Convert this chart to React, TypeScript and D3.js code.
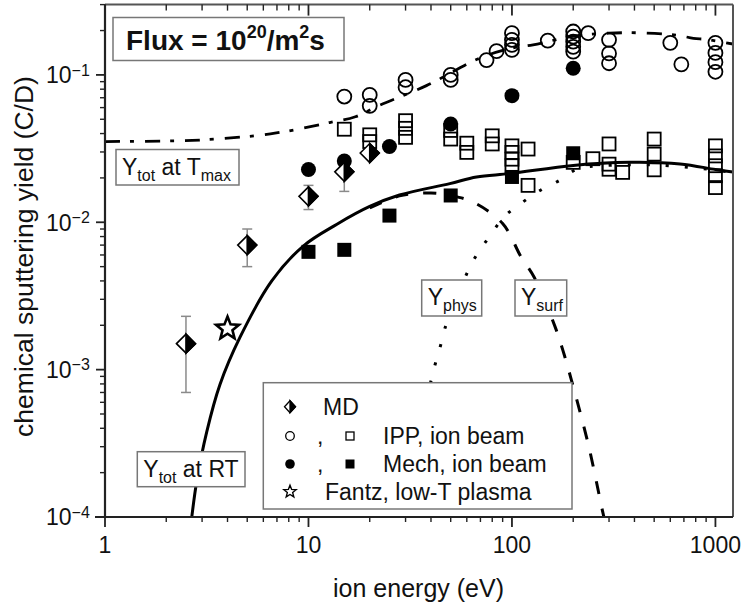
import React from 'react';
import * as d3 from 'd3';

// ---------- data ----------
const xDomain = [1, 1220];
const yDomain = [1e-4, 0.3];
const xTickValues = [1, 10, 100, 1000];
const xTickLabels = ['1', '10', '100', '1000'];
const yTickValues = [1e-4, 1e-3, 1e-2, 1e-1];
const yTickExponents = ['\u22124', '\u22123', '\u22122', '\u22121'];

// MD (half-filled diamonds) with error bars
const mdE = [2.5, 5, 10, 15, 20];
const mdY = [0.0015, 0.007, 0.015, 0.022, 0.0295];
const mdHi = [0.0023, 0.009, 0.0178, 0.028, 0.0295];
const mdLo = [0.0007, 0.005, 0.0122, 0.0162, 0.0295];

// IPP, ion beam: open circles
const ippCircE = [15, 20, 20, 30, 30, 50, 50, 75, 84, 100, 100, 100, 100, 150, 200, 200, 200, 200, 200, 237, 300, 300, 300, 600, 680, 1000, 1000, 1000, 1000];
const ippCircY = [0.0713, 0.0732, 0.0617, 0.0925, 0.0825, 0.1, 0.0925, 0.126, 0.145, 0.192, 0.173, 0.16, 0.148, 0.171, 0.197, 0.182, 0.168, 0.155, 0.144, 0.192, 0.173, 0.14, 0.12, 0.165, 0.118, 0.165, 0.141, 0.122, 0.105];

// IPP, ion beam: open squares
const ippSqE = [15, 20, 20, 30, 30, 30, 50, 50, 60, 60, 80, 80, 100, 100, 100, 100, 120, 120, 200, 250, 300, 300, 300, 350, 500, 500, 500, 1000, 1000, 1000, 1000, 1000];
const ippSqY = [0.0428, 0.0392, 0.0353, 0.0489, 0.0434, 0.0377, 0.042, 0.0367, 0.0344, 0.0298, 0.0386, 0.034, 0.033, 0.0298, 0.0268, 0.0242, 0.0314, 0.0178, 0.0255, 0.027, 0.034, 0.0248, 0.0229, 0.0218, 0.0367, 0.029, 0.0227, 0.033, 0.0282, 0.0242, 0.0207, 0.0172];

// Mech, ion beam: filled circles / squares
const mechCircE = [10, 15, 25, 50, 100, 200];
const mechCircY = [0.0228, 0.026, 0.0327, 0.0464, 0.0723, 0.111];
const mechSqE = [10, 15, 25, 50, 100, 200];
const mechSqY = [0.0063, 0.0065, 0.0111, 0.0152, 0.0203, 0.0294];

// Fantz, low-T plasma
const fantzE = [4];
const fantzY = [0.0019];

// Model curves
const totRtE = [2.67, 2.83, 3.16, 3.67, 4.61, 6.6, 9.43, 13.8, 20, 28, 49.5, 67, 98, 200, 380, 670, 1000, 1220];
const totRtY = [1e-4, 1.78e-4, 3.77e-4, 7.9e-4, 1.66e-3, 4.0e-3, 6.9e-3, 9.7e-3, 0.0128, 0.0153, 0.0183, 0.0203, 0.0214, 0.0243, 0.0255, 0.0249, 0.0228, 0.0219];

const surfE = [20, 28, 40, 50, 64.5, 90, 111, 129, 163, 178, 196, 238, 277, 283];
const surfY = [0.0125, 0.0151, 0.0158, 0.0152, 0.0137, 0.0098, 0.0058, 0.0042, 0.00195, 0.00135, 0.00085, 0.000305, 0.000114, 0.0001];

const physE = [36, 39.5, 41.8, 44.4, 46.8, 60, 67.5, 77.6, 91.5, 113, 140, 172, 211, 280, 500, 1000, 1220];
const physY = [0.00045, 0.00078, 0.00107, 0.00143, 0.0019, 0.00449, 0.0061, 0.008, 0.0109, 0.0137, 0.0167, 0.0193, 0.0231, 0.0242, 0.0245, 0.0226, 0.0217];

const totTmaxE = [1, 2, 3, 6.5, 12.7, 17, 22.5, 38, 69.5, 100, 127, 200, 300, 420, 650, 780, 905, 1220];
const totTmaxY = [0.0353, 0.0356, 0.0362, 0.0398, 0.0475, 0.052, 0.0625, 0.0846, 0.13, 0.152, 0.16, 0.183, 0.192, 0.193, 0.186, 0.177, 0.174, 0.162];

const legendLabels = ['MD', 'IPP, ion beam', 'Mech, ion beam', 'Fantz, low-T plasma'];

// ---------- layout ----------
const W = 744;
const H = 609;
const PL = 105, PR = 733, PT = 4.6, PB = 517;
const FONT = '"Liberation Sans", Arial, Helvetica, sans-serif';
const INK = '#111';

const zip = (a: number[], b: number[]) => a.map((v, i) => [v, b[i]] as [number, number]);

function starPath(cx: number, cy: number, ro: number, ri: number) {
  const pts: string[] = [];
  for (let i = 0; i < 10; i++) {
    const r = i % 2 === 0 ? ro : ri;
    const a = -Math.PI / 2 + (i * Math.PI) / 5;
    pts.push(`${cx + r * Math.cos(a)},${cy + r * Math.sin(a)}`);
  }
  return 'M' + pts.join('L') + 'Z';
}

function HalfDiamond({ cx, cy, w, h, sw }: { cx: number; cy: number; w: number; h: number; sw: number }) {
  return (
    <g>
      <path d={`M${cx - w},${cy}L${cx},${cy - h}L${cx + w},${cy}L${cx},${cy + h}Z`} fill="#fff" stroke="#000" strokeWidth={sw} />
      <path d={`M${cx},${cy - h}L${cx + w},${cy}L${cx},${cy + h}Z`} fill="#000" stroke="#000" strokeWidth={sw} strokeLinejoin="miter" />
    </g>
  );
}

function LabelBox({ x, y, w, h, main, sub, rest, sub2 }: { x: number; y: number; w: number; h: number; main: string; sub: string; rest?: string; sub2?: string }) {
  return (
    <g>
      <rect x={x} y={y} width={w} height={h} fill="#fff" stroke="#777" strokeWidth={1.5} />
      <text x={x + 6} y={y + 25} fontSize={23} fontFamily={FONT} fill={INK}>
        {main}
        <tspan fontSize={16} dy={6}>{sub}</tspan>
        {rest ? <tspan fontSize={23} dy={-6}>{rest}</tspan> : null}
        {sub2 ? <tspan fontSize={16} dy={6}>{sub2}</tspan> : null}
      </text>
    </g>
  );
}

export default function App() {
  const x = d3.scaleLog().domain(xDomain).range([PL, PR]);
  const y = d3.scaleLog().domain(yDomain).range([PB, PT]);

  const line = d3
    .line<[number, number]>()
    .x((d) => x(d[0]))
    .y((d) => y(d[1]))
    .curve(d3.curveCatmullRom.alpha(0.5));

  // minor ticks
  const xMinor: number[] = [];
  for (let dec = 1; dec <= 1000; dec *= 10) {
    for (let k = 2; k <= 9; k++) {
      const v = k * dec;
      if (v <= xDomain[1]) xMinor.push(v);
    }
  }
  const yMinor: number[] = [];
  for (let dec = 1e-4; dec < 0.5; dec *= 10) {
    for (let k = 2; k <= 9; k++) {
      const v = k * dec;
      if (v <= yDomain[1] * 1.0001) yMinor.push(v);
    }
  }

  const lx = 290; // legend symbol column
  const legendRowY = [406.7, 436, 464, 491.7];

  return (
    <svg width={W} height={H} style={{ position: 'absolute', left: 0, top: 0, background: '#fff' }} xmlns="http://www.w3.org/2000/svg">
      <rect x={0} y={0} width={W} height={H} fill="#fff" />
      <defs>
        <clipPath id="plotclip">
          <rect x={PL} y={PT} width={PR - PL} height={PB - PT} />
        </clipPath>
      </defs>

      {/* curves */}
      <g clipPath="url(#plotclip)" fill="none" stroke="#000">
        <path d={line(zip(totTmaxE, totTmaxY)) || ''} strokeWidth={2.8} strokeDasharray="15,10,4,11" />
        <path d={line(zip(physE, physY)) || ''} strokeWidth={3} strokeDasharray="3,16" />
        <path d={line(zip(surfE, surfY)) || ''} strokeWidth={3} strokeDasharray="13,15" />
        <path d={line(zip(totRtE, totRtY)) || ''} strokeWidth={3} />
      </g>

      {/* error bars */}
      <g stroke="#8a8a8a" strokeWidth={1.5}>
        {mdE.map((e, i) =>
          mdHi[i] !== mdLo[i] ? (
            <g key={i}>
              <line x1={x(e)} x2={x(e)} y1={y(mdHi[i])} y2={y(mdLo[i])} />
              <line x1={x(e) - 5} x2={x(e) + 5} y1={y(mdHi[i])} y2={y(mdHi[i])} />
              <line x1={x(e) - 5} x2={x(e) + 5} y1={y(mdLo[i])} y2={y(mdLo[i])} />
            </g>
          ) : null
        )}
      </g>

      {/* IPP open squares */}
      <g fill="none" stroke="#000" strokeWidth={1.8}>
        {ippSqE.map((e, i) => (
          <rect key={i} x={x(e) - 6.5} y={y(ippSqY[i]) - 6.5} width={13} height={13} />
        ))}
      </g>
      {/* IPP open circles */}
      <g fill="none" stroke="#000" strokeWidth={1.8}>
        {ippCircE.map((e, i) => (
          <circle key={i} cx={x(e)} cy={y(ippCircY[i])} r={7} />
        ))}
      </g>
      {/* Mech filled */}
      <g fill="#000">
        {mechSqE.map((e, i) => (
          <rect key={i} x={x(e) - 7} y={y(mechSqY[i]) - 7} width={14} height={14} />
        ))}
        {mechCircE.map((e, i) => (
          <circle key={i} cx={x(e)} cy={y(mechCircY[i])} r={7.5} />
        ))}
      </g>
      {/* MD */}
      {mdE.map((e, i) => (
        <HalfDiamond key={i} cx={x(e)} cy={y(mdY[i])} w={9.5} h={9.5} sw={1.6} />
      ))}
      {/* Fantz star */}
      {fantzE.map((e, i) => (
        <path key={i} d={starPath(x(e), y(fantzY[i]), 12, 5.2)} fill="#fff" stroke="#000" strokeWidth={2.6} strokeLinejoin="miter" />
      ))}

      {/* annotation boxes */}
      <g>
        <rect x={113} y={17.5} width={231} height={43} fill="#fff" stroke="#777" strokeWidth={1.5} />
        <text x={126} y={49.5} fontSize={28} fontWeight="bold" fontFamily={FONT} fill={INK}>
          Flux = 10
          <tspan fontSize={18} dy={-12}>20</tspan>
          <tspan fontSize={28} dy={12}>/m</tspan>
          <tspan fontSize={18} dy={-12}>2</tspan>
          <tspan fontSize={28} dy={12}>s</tspan>
        </text>
      </g>
      <LabelBox x={116} y={149.5} w={123} h={35.5} main="Y" sub="tot" rest=" at T" sub2="max" />
      <LabelBox x={137.3} y={451.7} w={107.7} h={35} main="Y" sub="tot" rest=" at RT" />
      <LabelBox x={421.7} y={280} w={60} h={36} main="Y" sub="phys" />
      <LabelBox x={515} y={280} w={51.7} h={36} main="Y" sub="surf" />

      {/* legend */}
      <g>
        <rect x={263.3} y={382.7} width={308.7} height={126.3} fill="#fff" stroke="#777" strokeWidth={1.5} />
        <HalfDiamond cx={lx} cy={legendRowY[0]} w={5.5} h={6} sw={1.3} />
        <circle cx={lx} cy={legendRowY[1]} r={4.3} fill="none" stroke="#000" strokeWidth={1.3} />
        <rect x={350 - 4} y={legendRowY[1] - 4} width={8} height={8} fill="none" stroke="#000" strokeWidth={1.3} />
        <circle cx={lx} cy={legendRowY[2]} r={4.8} fill="#000" />
        <rect x={350 - 4.5} y={legendRowY[2] - 4.5} width={9} height={9} fill="#000" />
        <path d={starPath(lx, legendRowY[3], 6.5, 2.8)} fill="#fff" stroke="#000" strokeWidth={1.4} />
        <g fontSize={23} fontFamily={FONT} fill={INK}>
          <text x={323} y={legendRowY[0] + 8.3}>{legendLabels[0]}</text>
          <text x={317} y={legendRowY[1] + 8.3}>,</text>
          <text x={383} y={legendRowY[1] + 8.3}>{legendLabels[1]}</text>
          <text x={317} y={legendRowY[2] + 8.3}>,</text>
          <text x={383} y={legendRowY[2] + 8.3}>{legendLabels[2]}</text>
          <text x={325} y={legendRowY[3] + 8.3}>{legendLabels[3]}</text>
        </g>
      </g>

      {/* frame */}
      <g stroke="#555" strokeWidth={2} fill="none">
        <line x1={PL} x2={PR} y1={PT} y2={PT} />
        <line x1={PR} x2={PR} y1={PT} y2={PB} />
      </g>

      {/* x axis */}
      <g stroke="#222" strokeWidth={1.8}>
        <line x1={PL - 10} x2={PR} y1={PB} y2={PB} strokeWidth={2.2} />
        {xTickValues.map((v) => (
          <g key={v}>
            <line x1={x(v)} x2={x(v)} y1={PB} y2={PB + 10} />
            <line x1={x(v)} x2={x(v)} y1={PT} y2={PT + 11} />
          </g>
        ))}
        {xMinor.map((v) => (
          <g key={v}>
            <line x1={x(v)} x2={x(v)} y1={PB} y2={PB + 5} strokeWidth={1.4} />
            <line x1={x(v)} x2={x(v)} y1={PT} y2={PT + 6} strokeWidth={1.4} />
          </g>
        ))}
      </g>
      <g fontSize={23} fontFamily={FONT} fill={INK} textAnchor="middle">
        {xTickValues.map((v, i) => (
          <text key={v} x={x(v)} y={553}>{xTickLabels[i]}</text>
        ))}
      </g>

      {/* y axis */}
      <g stroke="#222" strokeWidth={1.8}>
        <line x1={PL} x2={PL} y1={PT} y2={PB} strokeWidth={2.2} />
        {yTickValues.map((v) => (
          <line key={v} x1={PL - 9} x2={PL} y1={y(v)} y2={y(v)} />
        ))}
        {yMinor.map((v) => (
          <line key={v} x1={PL - 5} x2={PL} y1={y(v)} y2={y(v)} strokeWidth={1.4} />
        ))}
      </g>
      <g fontSize={23} fontFamily={FONT} fill={INK}>
        {yTickValues.map((v, i) => (
          <text key={v} x={46} y={y(v) + 8.3}>
            10
            <tspan fontSize={16} dy={-7.5}>{yTickExponents[i]}</tspan>
          </text>
        ))}
      </g>

      {/* axis titles */}
      <text x={418.5} y={597} fontSize={25} fontFamily={FONT} fill={INK} textAnchor="middle">
        ion energy (eV)
      </text>
      <text
        transform={`translate(33,256.5) rotate(-90)`}
        fontSize={26.5}
        fontFamily={FONT}
        fill={INK}
        textAnchor="middle"
      >
        chemical sputtering yield (C/D)
      </text>
    </svg>
  );
}
